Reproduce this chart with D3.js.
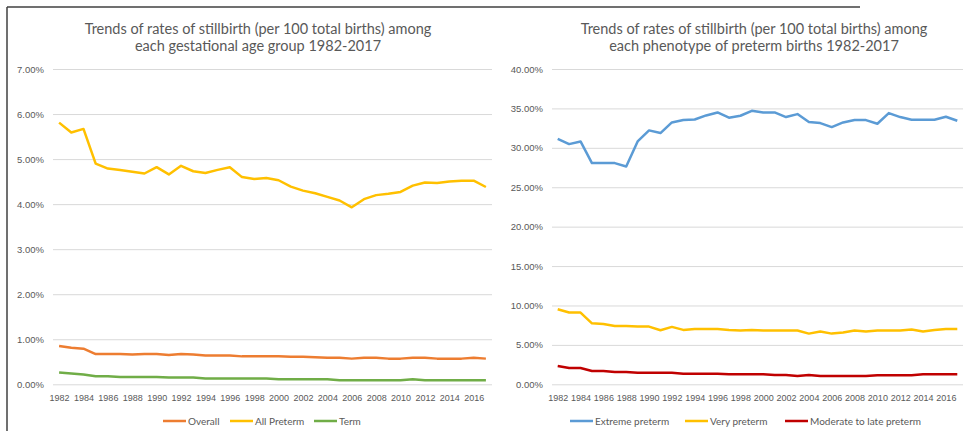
<!DOCTYPE html>
<html>
<head>
<meta charset="utf-8">
<script src="https://cdn.jsdelivr.net/npm/d3@7"></script>
<style>
body { margin: 0; background: #fff; }
svg { display: block; font-family: Lato, "Open Sans", sans-serif; }
</style>
</head>
<body>
<script>
var width = 966, height = 431;

//Years on the x axis, labels every other year.
var years = d3.range(1982, 2018);
var yearLabels = years.filter(function(d) { return (d - 1982) % 2 == 0; });

//Left chart: rates in percent.
var overall = [0.85, 0.81, 0.79, 0.67, 0.67, 0.67, 0.66, 0.67, 0.67, 0.65, 0.67, 0.66, 0.64, 0.64, 0.64, 0.62, 0.62, 0.62,
	0.62, 0.61, 0.61, 0.60, 0.59, 0.59, 0.57, 0.59, 0.59, 0.57, 0.57, 0.59, 0.59, 0.57, 0.57, 0.57, 0.59, 0.57];
var allPreterm = [5.81, 5.59, 5.67, 4.90, 4.79, 4.76, 4.72, 4.68, 4.82, 4.66, 4.85, 4.73, 4.69, 4.76, 4.82, 4.60, 4.56, 4.58,
	4.53, 4.39, 4.30, 4.24, 4.16, 4.08, 3.93, 4.11, 4.20, 4.23, 4.27, 4.41, 4.48, 4.47, 4.50, 4.52, 4.52, 4.38];
var term = [0.26, 0.24, 0.22, 0.18, 0.18, 0.16, 0.16, 0.16, 0.16, 0.15, 0.15, 0.15, 0.13, 0.13, 0.13, 0.13, 0.13, 0.13,
	0.11, 0.11, 0.11, 0.11, 0.11, 0.09, 0.09, 0.09, 0.09, 0.09, 0.09, 0.11, 0.09, 0.09, 0.09, 0.09, 0.09, 0.09];
var leftTicks = [0, 1, 2, 3, 4, 5, 6, 7];

//Right chart: rates in percent.
var extremePreterm = [31.15, 30.47, 30.81, 28.06, 28.06, 28.06, 27.63, 30.81, 32.21, 31.87, 33.22, 33.52, 33.60, 34.11, 34.49, 33.82, 34.07, 34.70,
	34.49, 34.49, 33.90, 34.28, 33.27, 33.14, 32.63, 33.22, 33.52, 33.52, 33.05, 34.41, 33.90, 33.56, 33.56, 33.56, 33.94, 33.43];
var veryPreterm = [9.52, 9.10, 9.10, 7.74, 7.66, 7.40, 7.40, 7.32, 7.32, 6.86, 7.28, 6.90, 7.03, 7.03, 7.03, 6.90, 6.82, 6.90,
	6.82, 6.82, 6.82, 6.82, 6.43, 6.69, 6.43, 6.56, 6.82, 6.69, 6.82, 6.82, 6.82, 6.94, 6.69, 6.90, 7.03, 7.03];
var moderatePreterm = [2.32, 2.07, 2.07, 1.69, 1.69, 1.57, 1.57, 1.48, 1.48, 1.48, 1.48, 1.35, 1.35, 1.35, 1.35, 1.27, 1.27, 1.27,
	1.27, 1.18, 1.18, 1.06, 1.18, 1.06, 1.06, 1.06, 1.06, 1.06, 1.14, 1.14, 1.14, 1.14, 1.27, 1.27, 1.27, 1.27];
var rightTicks = [0, 5, 10, 15, 20, 25, 30, 35, 40];

var textColor = '#595959', gridColor = '#d9d9d9';

var svg = d3.select('body').append('svg')
	.attr('width', width)
	.attr('height', height);

//Frame lines left over from the screenshot.
svg.append('line').attr('x1', 7).attr('x2', 860).attr('y1', 7).attr('y2', 7)
	.style('stroke', '#404040').style('stroke-width', 1.5);
svg.append('line').attr('x1', 7).attr('x2', 7).attr('y1', 7).attr('y2', height)
	.style('stroke', '#404040').style('stroke-width', 1.5);

function drawChart(opts) {
	var top = 69, bottom = 384.3;
	var x = d3.scalePoint().domain(years).range([opts.left, opts.right]).padding(0.5);
	var y = d3.scaleLinear().domain([0, d3.max(opts.ticks)]).range([bottom, top]);

	//Title, two lines.
	var title = svg.append('text')
		.attr('text-anchor', 'middle')
		.style('font-size', '14.5px')
		.style('fill', textColor);
	opts.title.forEach(function(t, i) {
		title.append('tspan').attr('x', opts.titleX).attr('y', 34 + i * 17).text(t);
	});

	//Gridlines and y labels.
	var yAxis = svg.append('g')
		.attr('transform', 'translate(' + opts.left + ',0)')
		.call(d3.axisLeft(y).tickValues(opts.ticks)
			.tickSize(-(opts.right - opts.left))
			.tickPadding(9)
			.tickFormat(function(d) { return d.toFixed(2) + '%'; }));
	yAxis.select('.domain').remove();
	yAxis.selectAll('line').style('stroke', gridColor);
	yAxis.selectAll('text').style('fill', textColor).style('font-size', '9.5px').style('font-family', null);

	var xAxis = svg.append('g')
		.attr('transform', 'translate(0,' + bottom + ')')
		.call(d3.axisBottom(x).tickValues(yearLabels).tickSize(0).tickPadding(10));
	xAxis.select('.domain').remove();
	xAxis.selectAll('text').style('fill', textColor).style('font-size', '9px').style('font-family', null);

	var line = d3.line()
		.x(function(d, i) { return x(years[i]); })
		.y(function(d) { return y(d); });

	opts.series.forEach(function(s) {
		svg.append('path')
			.datum(s.values)
			.attr('d', line)
			.style('fill', 'none')
			.style('stroke', s.color)
			.style('stroke-width', 2.5)
			.style('stroke-linejoin', 'round');
	});

	//Legend.
	var legend = svg.append('g').attr('transform', 'translate(0,421)');
	opts.series.forEach(function(s, i) {
		var lx = opts.legendX[i];
		legend.append('line')
			.attr('x1', lx).attr('x2', lx + 23)
			.style('stroke', s.color).style('stroke-width', 2.5);
		legend.append('text')
			.attr('x', lx + 25).attr('dy', '0.35em')
			.style('fill', textColor).style('font-size', '10px')
			.text(s.name);
	});
}

drawChart({
	left: 53, right: 492, titleX: 258,
	ticks: leftTicks,
	title: ['Trends of rates of stillbirth (per 100 total births) among', 'each gestational age group 1982-2017'],
	legendX: [163, 230, 314],
	series: [
		{name: 'Overall', values: overall, color: '#ed7d31'},
		{name: 'All Preterm', values: allPreterm, color: '#ffc000'},
		{name: 'Term', values: term, color: '#70ad47'}
	]
});

drawChart({
	left: 552, right: 963, titleX: 754,
	ticks: rightTicks,
	title: ['Trends of rates of stillbirth (per 100 total births) among', 'each phenotype of preterm births 1982-2017'],
	legendX: [570, 685, 785],
	series: [
		{name: 'Extreme preterm', values: extremePreterm, color: '#5b9bd5'},
		{name: 'Very preterm', values: veryPreterm, color: '#ffc000'},
		{name: 'Moderate to late preterm', values: moderatePreterm, color: '#c00000'}
	]
});
</script>
</body>
</html>
